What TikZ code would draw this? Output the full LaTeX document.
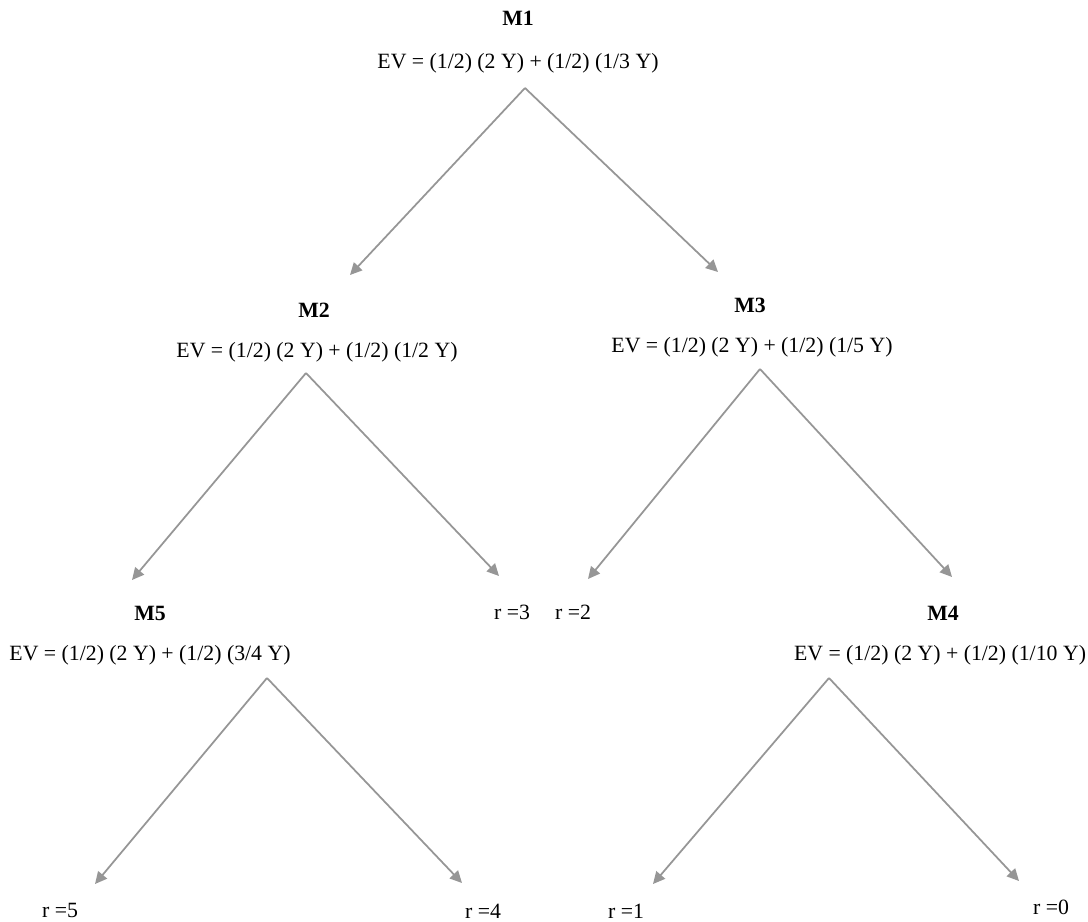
\documentclass[tikz,border=0pt]{standalone}
\usepackage{fontspec}
\setmainfont{Liberation Serif}
\usetikzlibrary{arrows.meta,positioning}
\definecolor{Xgray}{RGB}{150,150,150}
\tikzset{
  branch/.style={-{Triangle[length=2.4mm,width=2.3mm]}, line width=1pt, draw=Xgray},
  mname/.style={font=\fontsize{12.4}{14}\selectfont\bfseries, inner sep=1pt},
  evline/.style={font=\fontsize{12.4}{14}\selectfont, inner sep=1pt},
  leaf/.style={font=\fontsize{12.4}{14}\selectfont, inner sep=1pt}
}

\begin{document}
\begin{tikzpicture}[x=0.02cm, y=-0.02cm]
  \useasboundingbox (0,0) rectangle (1088,922);
  % decision nodes
  \node[mname] (m1) at (518,18) {M1};
  \node[evline] (ev1) at (518,63) {EV = (1/2) (2 Y) + (1/2) (1/3 Y)};
  \node[mname] (m2) at (314,310) {M2};
  \node[evline] (ev2) at (317,352) {EV = (1/2) (2 Y) + (1/2) (1/2 Y)};
  \node[mname] (m3) at (750,305) {M3};
  \node[evline] (ev3) at (752,347) {EV = (1/2) (2 Y) + (1/2) (1/5 Y)};
  \node[mname] (m5) at (150,613) {M5};
  \node[evline] (ev5) at (150,655) {EV = (1/2) (2 Y) + (1/2) (3/4 Y)};
  \node[mname] (m4) at (943,613) {M4};
  \node[evline] (ev4) at (940,655) {EV = (1/2) (2 Y) + (1/2) (1/10 Y)};
  % outcomes
  \node[leaf] (r3) at (512,612) {r =3};
  \node[leaf] (r2) at (573,612) {r =2};
  \node[leaf] (r5) at (60,910) {r =5};
  \node[leaf] (r4) at (483,911) {r =4};
  \node[leaf] (r1) at (626,911) {r =1};
  \node[leaf] (r0) at (1051,907) {r =0};
  % fork points and arrow tips
  \coordinate (a1) at (525,88);
  \coordinate (a2) at (306,373);
  \coordinate (a3) at (760,369);
  \coordinate (a5) at (267,678);
  \coordinate (a4) at (829,678);
  \coordinate (t2) at (350,275);
  \coordinate (t3) at (718,272);
  \coordinate (t5) at (132,580);
  \coordinate (tr3) at (499,576);
  \coordinate (tr2) at (588,579);
  \coordinate (t4) at (952,577);
  \coordinate (tr5) at (95,884);
  \coordinate (tr4) at (462,883);
  \coordinate (tr1) at (653,884);
  \coordinate (tr0) at (1019,881);
  \draw[branch] (a1) -- (t2);
  \draw[branch] (a1) -- (t3);
  \draw[branch] (a2) -- (t5);
  \draw[branch] (a2) -- (tr3);
  \draw[branch] (a3) -- (tr2);
  \draw[branch] (a3) -- (t4);
  \draw[branch] (a5) -- (tr5);
  \draw[branch] (a5) -- (tr4);
  \draw[branch] (a4) -- (tr1);
  \draw[branch] (a4) -- (tr0);
\end{tikzpicture}
\end{document}
